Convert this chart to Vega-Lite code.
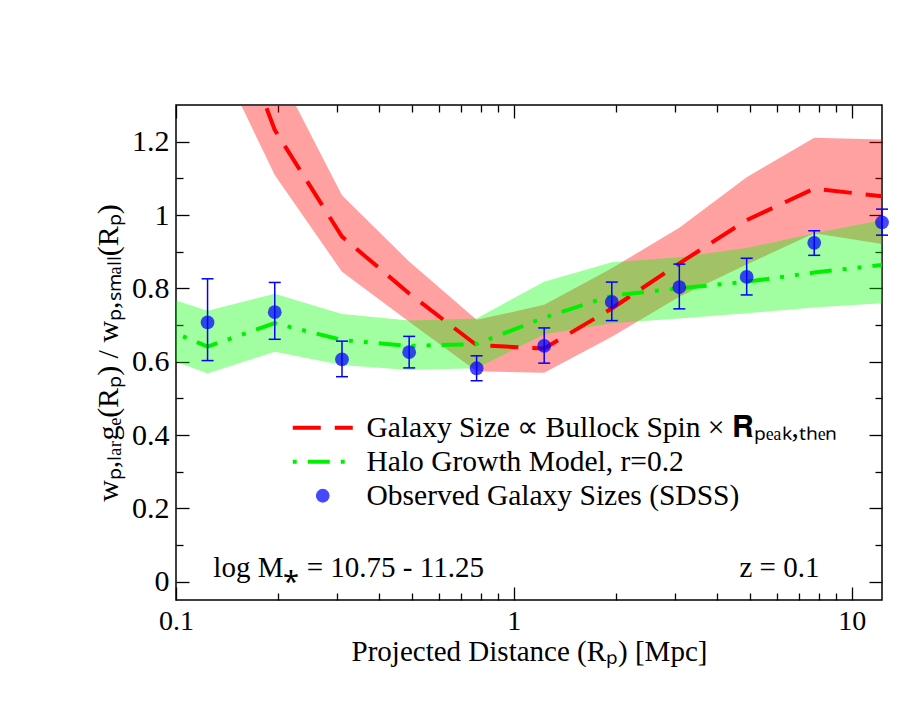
{
  "$schema": "https://vega.github.io/schema/vega-lite/v6.json",
  "width": 706,
  "height": 495,
  "autosize": "none",
  "padding": {"left": 176, "top": 105, "right": 31, "bottom": 106},
  "background": "white",
  "config": {
    "view": {"stroke": "black", "strokeWidth": 1.5},
    "font": "Liberation Serif",
    "axis": {
      "grid": false,
      "domain": false,
      "labelFont": "Liberation Serif",
      "titleFont": "Liberation Serif",
      "labelFontSize": 28,
      "titleFontSize": 29,
      "titleFontWeight": "normal",
      "labelColor": "black",
      "titleColor": "black",
      "tickColor": "black",
      "tickWidth": 1.3,
      "labelFlush": false,
      "labelOverlap": false
    }
  },
  "datasets": {
    "curves": [
      {"r": 0.0776, "red": null, "red_lo": null, "red_hi": null, "grn": 0.72, "grn_lo": 0.639, "grn_hi": 0.799, "obs": null, "obs_lo": null, "obs_hi": null},
      {"r": 0.124, "red": 1.72, "red_lo": 1.49, "red_hi": 2.0, "grn": 0.641, "grn_lo": 0.568, "grn_hi": 0.739, "obs": 0.707, "obs_lo": 0.603, "obs_hi": 0.826},
      {"r": 0.196, "red": 1.232, "red_lo": 1.109, "red_hi": 1.41, "grn": 0.705, "grn_lo": 0.627, "grn_hi": 0.785, "obs": 0.735, "obs_lo": 0.661, "obs_hi": 0.816},
      {"r": 0.31, "red": 0.941, "red_lo": 0.845, "red_hi": 1.054, "grn": 0.659, "grn_lo": 0.591, "grn_hi": 0.73, "obs": 0.606, "obs_lo": 0.559, "obs_hi": 0.656},
      {"r": 0.49, "red": 0.786, "red_lo": 0.709, "red_hi": 0.873, "grn": 0.643, "grn_lo": 0.577, "grn_hi": 0.712, "obs": 0.626, "obs_lo": 0.583, "obs_hi": 0.669},
      {"r": 0.776, "red": 0.645, "red_lo": 0.574, "red_hi": 0.714, "grn": 0.648, "grn_lo": 0.582, "grn_hi": 0.718, "obs": 0.582, "obs_lo": 0.548, "obs_hi": 0.616},
      {"r": 1.23, "red": 0.636, "red_lo": 0.57, "red_hi": 0.755, "grn": 0.72, "grn_lo": 0.675, "grn_hi": 0.818, "obs": 0.643, "obs_lo": 0.596, "obs_hi": 0.692},
      {"r": 1.95, "red": 0.745, "red_lo": 0.668, "red_hi": 0.855, "grn": 0.78, "grn_lo": 0.705, "grn_hi": 0.871, "obs": 0.763, "obs_lo": 0.712, "obs_hi": 0.817},
      {"r": 3.09, "red": 0.868, "red_lo": 0.777, "red_hi": 0.965, "grn": 0.8, "grn_lo": 0.718, "grn_hi": 0.885, "obs": 0.803, "obs_lo": 0.744, "obs_hi": 0.866},
      {"r": 4.89, "red": 0.986, "red_lo": 0.865, "red_hi": 1.103, "grn": 0.818, "grn_lo": 0.732, "grn_hi": 0.91, "obs": 0.831, "obs_lo": 0.782, "obs_hi": 0.882},
      {"r": 7.75, "red": 1.072, "red_lo": 0.95, "red_hi": 1.211, "grn": 0.843, "grn_lo": 0.748, "grn_hi": 0.95, "obs": 0.924, "obs_lo": 0.89, "obs_hi": 0.957},
      {"r": 12.3, "red": 1.051, "red_lo": 0.921, "red_hi": 1.206, "grn": 0.864, "grn_lo": 0.759, "grn_hi": 0.986, "obs": 0.98, "obs_lo": 0.945, "obs_hi": 1.016}
    ]
  },
  "data": {"name": "curves"},
  "layer": [
    {
      "transform": [{"filter": "datum.red_lo != null"}],
      "mark": {"type": "area", "color": "#ff0000", "opacity": 0.37, "clip": true},
      "encoding": {
        "x": {"field": "r", "type": "quantitative",
          "scale": {"type": "log", "domain": [0.1, 12.3], "nice": false},
          "axis": {"orient": "bottom", "values": [0.1, 1, 10], "format": "~g", "tickSize": -13, "labelPadding": 20, "titlePadding": 2},
          "title": "Projected Distance (Rₚ) [Mpc]"},
        "y": {"field": "red_lo", "type": "quantitative",
          "scale": {"domain": [-0.05, 1.3], "nice": false, "zero": false},
          "axis": {"orient": "left", "values": [0, 0.2, 0.4, 0.6, 0.8, 1, 1.2], "format": "~g", "tickSize": -13, "labelPadding": 20, "labelFontSize": 30, "titleFontSize": 30, "titlePadding": 8},
          "title": "wₚ,ₗₐᵣgₑ(Rₚ) / wₚ,ₛₘₐₗₗ(Rₚ)"},
        "y2": {"field": "red_hi"}
      }
    },
    {
      "mark": {"type": "area", "color": "#00ff00", "opacity": 0.37, "clip": true},
      "encoding": {
        "x": {"field": "r", "type": "quantitative",
          "axis": {"orient": "top", "values": [0.1, 1, 10], "labels": false, "tickSize": -13}, "title": null},
        "y": {"field": "grn_lo", "type": "quantitative",
          "axis": {"orient": "right", "values": [0, 0.2, 0.4, 0.6, 0.8, 1, 1.2], "labels": false, "tickSize": -13}, "title": null},
        "y2": {"field": "grn_hi"}
      }
    },
    {
      "transform": [{"filter": "datum.red != null"}],
      "mark": {"type": "line", "strokeWidth": 4, "strokeDash": [28, 14], "clip": true},
      "encoding": {
        "x": {"field": "r", "type": "quantitative",
          "axis": {"orient": "bottom", "values": [0.2, 0.3, 0.4, 0.5, 0.6, 0.7, 0.8, 0.9, 2, 3, 4, 5, 6, 7, 8, 9], "labels": false, "tickSize": -7}, "title": null},
        "y": {"field": "red", "type": "quantitative",
          "axis": {"orient": "left", "values": [0.1, 0.3, 0.5, 0.7, 0.9, 1.1], "labels": false, "tickSize": -7}, "title": null},
        "color": {"datum": "model", "type": "nominal",
          "scale": {"domain": ["model", "halo", "obs"], "range": ["#ff0000", "#00f000", "#0000ff"]},
          "legend": {
            "orient": "none", "legendX": 132, "legendY": 308, "title": null, "padding": 0,
            "labelFont": "Liberation Serif", "labelFontSize": 29.5, "labelColor": "black", "labelLimit": 700,
            "symbolType": "stroke", "symbolSize": 3600, "labelOffset": 29, "rowPadding": 3,
            "labelExpr": "datum.value === 'model' ? 'Galaxy Size ∝ Bullock Spin × 𝐑ₚₑₐₖ,ₜₕₑₙ' : datum.value === 'halo' ? 'Halo Growth Model, r=0.2' : 'Observed Galaxy Sizes (SDSS)'",
            "encode": {"symbols": {"update": {
              "shape": {"signal": "datum.value === 'obs' ? 'circle' : 'stroke'"},
              "size": {"signal": "datum.value === 'obs' ? 190 : 3600"},
              "strokeWidth": {"signal": "datum.value === 'obs' ? 0 : 4"},
              "strokeDash": {"signal": "datum.value === 'model' ? [28, 14] : datum.value === 'halo' ? [22, 11, 4, 11, 4, 11] : [1, 0]"},
              "strokeDashOffset": {"signal": "datum.value === 'halo' ? 48 : 0"},
              "stroke": {"signal": "datum.value === 'model' ? '#ff0000' : datum.value === 'halo' ? '#00f000' : 'transparent'"},
              "fill": {"signal": "datum.value === 'obs' ? '#0000ff' : 'transparent'"},
              "opacity": {"signal": "datum.value === 'obs' ? 0.72 : 1"}
            }}}
          }}
      }
    },
    {
      "mark": {"type": "line", "strokeWidth": 4, "strokeDash": [22, 11, 4, 11, 4, 11], "clip": true},
      "encoding": {
        "x": {"field": "r", "type": "quantitative",
          "axis": {"orient": "top", "values": [0.2, 0.3, 0.4, 0.5, 0.6, 0.7, 0.8, 0.9, 2, 3, 4, 5, 6, 7, 8, 9], "labels": false, "tickSize": -7}, "title": null},
        "y": {"field": "grn", "type": "quantitative",
          "axis": {"orient": "right", "values": [0.1, 0.3, 0.5, 0.7, 0.9, 1.1], "labels": false, "tickSize": -7}, "title": null},
        "color": {"datum": "halo", "type": "nominal"}
      }
    },
    {
      "transform": [{"filter": "datum.obs != null"}],
      "mark": {"type": "rule", "color": "#0000ff", "strokeWidth": 1.5},
      "encoding": {
        "x": {"field": "r", "type": "quantitative", "axis": null},
        "y": {"field": "obs_lo", "type": "quantitative", "axis": null},
        "y2": {"field": "obs_hi"}
      }
    },
    {
      "transform": [{"filter": "datum.obs != null"}],
      "mark": {"type": "tick", "orient": "horizontal", "color": "#0000ff", "size": 12, "thickness": 1.5, "opacity": 1},
      "encoding": {
        "x": {"field": "r", "type": "quantitative", "axis": null},
        "y": {"field": "obs_lo", "type": "quantitative", "axis": null}
      }
    },
    {
      "transform": [{"filter": "datum.obs != null"}],
      "mark": {"type": "tick", "orient": "horizontal", "color": "#0000ff", "size": 12, "thickness": 1.5, "opacity": 1},
      "encoding": {
        "x": {"field": "r", "type": "quantitative", "axis": null},
        "y": {"field": "obs_hi", "type": "quantitative", "axis": null}
      }
    },
    {
      "transform": [{"filter": "datum.obs != null"}],
      "mark": {"type": "point", "filled": true, "size": 190, "opacity": 0.72},
      "encoding": {
        "x": {"field": "r", "type": "quantitative", "axis": null},
        "y": {"field": "obs", "type": "quantitative", "axis": null},
        "color": {"datum": "obs", "type": "nominal"}
      }
    },
    {
      "data": {"values": [{"r": 0.129, "v": 0.013, "note": "log M⁎ = 10.75 - 11.25"}]},
      "mark": {"type": "text", "align": "left", "baseline": "alphabetic", "font": "Liberation Serif", "fontSize": 29, "color": "black"},
      "encoding": {
        "x": {"field": "r", "type": "quantitative", "axis": null},
        "y": {"field": "v", "type": "quantitative", "axis": null},
        "text": {"field": "note"}
      }
    },
    {
      "data": {"values": [{"r": 8.03, "v": 0.013, "note": "z = 0.1"}]},
      "mark": {"type": "text", "align": "right", "baseline": "alphabetic", "font": "Liberation Serif", "fontSize": 29, "color": "black"},
      "encoding": {
        "x": {"field": "r", "type": "quantitative", "axis": null},
        "y": {"field": "v", "type": "quantitative", "axis": null},
        "text": {"field": "note"}
      }
    }
  ],
  "resolve": {"axis": {"x": "independent", "y": "independent"}}
}
